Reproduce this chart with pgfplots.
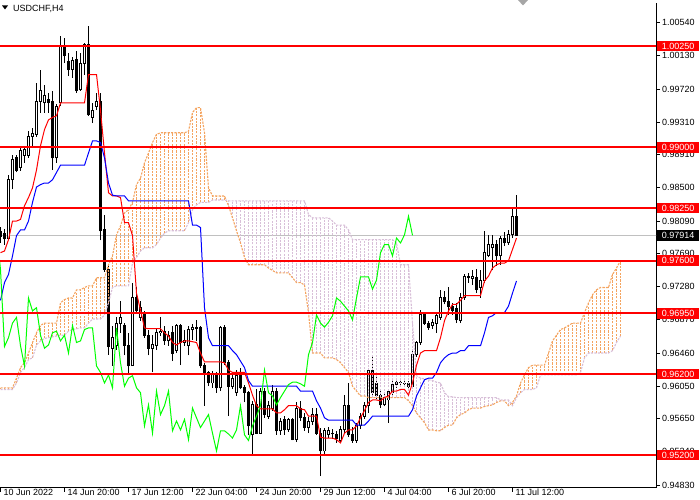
\documentclass[border=0pt]{standalone}
\usepackage{pgfplots}
\pgfplotsset{compat=1.18}
\usepackage{pgfplotstable}
\usepackage{fontspec}
\setmainfont{Liberation Sans}

\definecolor{sandy}{HTML}{F4A460}
\definecolor{thist}{HTML}{D8BFD8}
\definecolor{chik}{HTML}{00FF00}
\definecolor{bidgray}{HTML}{C0C0C0}
\newcommand\lbl{\fontsize{9bp}{10.5bp}\selectfont}

% H4 candles: bar index, open, high, low, close
\pgfplotstableread{
i o h l c
0 0.9796 0.9802 0.9782 0.9790
1 0.9794 0.9799 0.9780 0.9787
2 0.9788 0.9866 0.9785 0.9860
3 0.9860 0.9890 0.9848 0.9885
4 0.9887 0.9891 0.9869 0.9872
5 0.9875 0.9902 0.9871 0.9896
6 0.9890 0.9902 0.9881 0.9897
7 0.9890 0.9920 0.9887 0.9914
8 0.9914 0.9924 0.9902 0.9917
9 0.9916 0.9980 0.9913 0.9957
10 0.9957 0.9995 0.9943 0.9970
11 0.9955 0.9977 0.9943 0.9964
12 0.9959 0.9967 0.9943 0.9956
13 0.9957 0.9970 0.9872 0.9887
14 0.9887 0.9954 0.9881 0.9951
15 0.9955 1.0038 0.9951 1.0025
16 1.0025 1.0035 1.0004 1.0013
17 1.0006 1.0017 0.9988 0.9996
18 0.9996 1.0011 0.9986 1.0007
19 1.0008 1.0019 0.9967 0.9970
20 0.9971 1.0017 0.9970 1.0004
21 1.0004 1.0029 0.9990 1.0027
22 1.0027 1.0050 0.9939 0.9940
23 0.9937 0.9955 0.9930 0.9946
24 0.9951 0.9967 0.9946 0.9957
25 0.9957 0.9967 0.9785 0.9797
26 0.9798 0.9817 0.9746 0.9749
27 0.9749 0.9755 0.9644 0.9654
28 0.9652 0.9680 0.9630 0.9665
29 0.9655 0.9690 0.9650 0.9683
30 0.9683 0.9710 0.9671 0.9690
31 0.9680 0.9683 0.9643 0.9655
32 0.9655 0.9671 0.9619 0.9630
33 0.9631 0.9733 0.9630 0.9714
34 0.9714 0.9727 0.9696 0.9698
35 0.9690 0.9710 0.9686 0.9702
36 0.9693 0.9698 0.9665 0.9668
37 0.9668 0.9675 0.9643 0.9652
38 0.9652 0.9668 0.9622 0.9656
39 0.9655 0.9676 0.9650 0.9671
40 0.9671 0.9690 0.9667 0.9673
41 0.9673 0.9680 0.9656 0.9661
42 0.9661 0.9673 0.9655 0.9668
43 0.9671 0.9680 0.9636 0.9646
44 0.9649 0.9682 0.9646 0.9680
45 0.9680 0.9682 0.9631 0.9659
46 0.9659 0.9675 0.9655 0.9661
47 0.9655 0.9680 0.9643 0.9675
48 0.9675 0.9682 0.9662 0.9677
49 0.9676 0.9687 0.9661 0.9677
50 0.9677 0.9680 0.9628 0.9630
51 0.9631 0.9634 0.9581 0.9622
52 0.9622 0.9624 0.9605 0.9609
53 0.9609 0.9624 0.9603 0.9619
54 0.9619 0.9622 0.9597 0.9603
55 0.9603 0.9680 0.9599 0.9677
56 0.9677 0.9681 0.9631 0.9634
57 0.9634 0.9638 0.9568 0.9605
58 0.9605 0.9622 0.9601 0.9615
59 0.9597 0.9625 0.9593 0.9618
60 0.9618 0.9628 0.9601 0.9603
61 0.9603 0.9607 0.9585 0.9597
62 0.9597 0.9599 0.9545 0.9556
63 0.9545 0.9587 0.9520 0.9582
64 0.9582 0.9601 0.9546 0.9547
65 0.9547 0.9603 0.9546 0.9599
66 0.9599 0.9603 0.9566 0.9570
67 0.9568 0.9587 0.9565 0.9581
68 0.9578 0.9607 0.9575 0.9599
69 0.9599 0.9603 0.9545 0.9550
70 0.9550 0.9566 0.9545 0.9562
71 0.9564 0.9568 0.9545 0.9551
72 0.9551 0.9566 0.9549 0.9564
73 0.9564 0.9566 0.9538 0.9539
74 0.9539 0.9585 0.9536 0.9578
75 0.9578 0.9587 0.9562 0.9566
76 0.9566 0.9572 0.9550 0.9554
77 0.9554 0.9567 0.9547 0.9562
78 0.9562 0.9578 0.9557 0.9570
79 0.9570 0.9578 0.9545 0.9547
80 0.9547 0.9554 0.9494 0.9525
81 0.9525 0.9554 0.9520 0.9550
82 0.9545 0.9555 0.9541 0.9550
83 0.9547 0.9552 0.9540 0.9546
84 0.9545 0.9550 0.9535 0.9541
85 0.9538 0.9556 0.9535 0.9551
86 0.9551 0.9594 0.9547 0.9581
87 0.9581 0.9609 0.9542 0.9545
88 0.9545 0.9555 0.9535 0.9538
89 0.9538 0.9560 0.9535 0.9556
90 0.9556 0.9572 0.9552 0.9568
91 0.9568 0.9585 0.9565 0.9581
92 0.9581 0.9628 0.9572 0.9625
93 0.9625 0.9643 0.9593 0.9597
94 0.9609 0.9619 0.9589 0.9593
95 0.9594 0.9599 0.9578 0.9582
96 0.9582 0.9597 0.9580 0.9591
97 0.9588 0.9602 0.9560 0.9599
98 0.9597 0.9613 0.9593 0.9607
99 0.9607 0.9613 0.9603 0.9610
100 0.9609 0.9614 0.9605 0.9610
101 0.9609 0.9613 0.9604 0.9608
102 0.9608 0.9612 0.9602 0.9605
103 0.9605 0.9649 0.9603 0.9644
104 0.9644 0.9661 0.9641 0.9659
105 0.9659 0.9699 0.9656 0.9693
106 0.9693 0.9697 0.9681 0.9683
107 0.9683 0.9686 0.9675 0.9678
108 0.9680 0.9688 0.9676 0.9684
109 0.9683 0.9696 0.9671 0.9692
110 0.9690 0.9724 0.9687 0.9714
111 0.9714 0.9723 0.9706 0.9710
112 0.9710 0.9727 0.9693 0.9704
113 0.9704 0.9708 0.9693 0.9698
114 0.9701 0.9708 0.9683 0.9687
115 0.9686 0.9720 0.9683 0.9714
116 0.9714 0.9743 0.9712 0.9740
117 0.9739 0.9745 0.9733 0.9740
118 0.9738 0.9748 0.9730 0.9740
119 0.9739 0.9750 0.9720 0.9725
120 0.9727 0.9748 0.9714 0.9736
121 0.9736 0.9797 0.9733 0.9770
122 0.9767 0.9792 0.9764 0.9780
123 0.9776 0.9792 0.9748 0.9780
124 0.9780 0.9785 0.9754 0.9766
125 0.9766 0.9791 0.9755 0.9788
126 0.9788 0.9795 0.9778 0.9782
127 0.9782 0.9798 0.9780 0.9792
128 0.9792 0.9825 0.9788 0.9815
129 0.9815 0.9841 0.9791 0.97914
}\candles

% Tenkan-sen (t) and Kijun-sen (k)
\pgfplotstableread{
i t k
0 0.9770 0.9711
1 0.9772 0.9733
2 0.9786 0.9743
3 0.9809 0.9766
4 0.9809 0.9791
5 0.9811 0.9798
6 0.9828 0.9798
7 0.9838 0.9809
8 0.9850 0.9832
9 0.9872 0.9851
10 0.9902 0.9854
11 0.9922 0.9856
12 0.9934 0.9856
13 0.9937 0.9860
14 0.9939 0.9869
15 0.9955 0.9878
16 0.9955 0.9878
17 0.9955 0.9878
18 0.9955 0.9878
19 0.9955 0.9878
20 0.9955 0.9878
21 0.9955 0.9878
22 0.9990 0.9893
23 0.9990 0.9908
24 0.9990 0.9908
25 0.9946 0.9906
26 0.9893 0.9887
27 0.9844 0.9856
28 0.9840 0.9841
29 0.9840 0.9840
30 0.9838 0.9840
31 0.9807 0.9840
32 0.9807 0.9834
33 0.9791 0.9834
34 0.9720 0.9834
35 0.9699 0.9834
36 0.9677 0.9834
37 0.9676 0.9834
38 0.9676 0.9834
39 0.9676 0.9834
40 0.9676 0.9834
41 0.9671 0.9834
42 0.9667 0.9834
43 0.9659 0.9834
44 0.9656 0.9834
45 0.9659 0.9834
46 0.9661 0.9834
47 0.9661 0.9834
48 0.9660 0.9804
49 0.9659 0.9804
50 0.9646 0.9801
51 0.9635 0.9702
52 0.9635 0.9665
53 0.9635 0.9655
54 0.9635 0.9655
55 0.9635 0.9655
56 0.9634 0.9655
57 0.9625 0.9655
58 0.9622 0.9649
59 0.9622 0.9644
60 0.9622 0.9636
61 0.9622 0.9628
62 0.9609 0.9612
63 0.9594 0.9605
64 0.9581 0.9605
65 0.9577 0.9605
66 0.9577 0.9605
67 0.9577 0.9605
68 0.9577 0.9605
69 0.9572 0.9605
70 0.9572 0.9605
71 0.9576 0.9605
72 0.9581 0.9605
73 0.9581 0.9605
74 0.9581 0.9605
75 0.9577 0.9599
76 0.9576 0.9599
77 0.9568 0.9599
78 0.9568 0.9599
79 0.9568 0.9587
80 0.9542 0.9578
81 0.9541 0.9566
82 0.9541 0.9563
83 0.9541 0.9563
84 0.9539 0.9563
85 0.9535 0.9563
86 0.9547 0.9563
87 0.9551 0.9563
88 0.9551 0.9563
89 0.9556 0.9557
90 0.9566 0.9557
91 0.9575 0.9557
92 0.9585 0.9562
93 0.9588 0.9568
94 0.9588 0.9568
95 0.9587 0.9568
96 0.9591 0.9568
97 0.9593 0.9568
98 0.9599 0.9568
99 0.9599 0.9568
100 0.9601 0.9568
101 0.9601 0.9568
102 0.9594 0.9568
103 0.9609 0.9576
104 0.9631 0.9593
105 0.9646 0.9603
106 0.9649 0.9613
107 0.9649 0.9615
108 0.9649 0.9615
109 0.9649 0.9622
110 0.9665 0.9634
111 0.9686 0.9640
112 0.9698 0.9644
113 0.9706 0.9646
114 0.9706 0.9646
115 0.9711 0.9649
116 0.9717 0.9649
117 0.9717 0.9655
118 0.9717 0.9655
119 0.9717 0.9655
120 0.9717 0.9655
121 0.9735 0.9671
122 0.9741 0.9690
123 0.9751 0.9692
124 0.9755 0.9696
125 0.9757 0.9696
126 0.9757 0.9696
127 0.9760 0.9704
128 0.9774 0.9720
129 0.9788 0.9735
}\lines

% Senkou span A (a) and B (b), already shifted 26 bars ahead
\pgfplotstableread{
i a b
0 0.9603 0.9601
1 0.9603 0.9601
2 0.9603 0.9601
3 0.9603 0.9601
4 0.9615 0.9609
5 0.9628 0.9622
6 0.9634 0.9628
7 0.9646 0.9638
8 0.9659 0.9640
9 0.9671 0.9656
10 0.9680 0.9661
11 0.9683 0.9664
12 0.9683 0.9665
13 0.9683 0.9666
14 0.9683 0.9667
15 0.9708 0.9668
16 0.9712 0.9668
17 0.9714 0.9673
18 0.9714 0.9675
19 0.9724 0.9676
20 0.9724 0.9677
21 0.9727 0.9677
22 0.9729 0.9683
23 0.9729 0.9688
24 0.9739 0.9688
25 0.9739 0.9688
26 0.9739 0.9693
27 0.9755 0.9708
28 0.9766 0.9727
29 0.9792 0.9729
30 0.9803 0.9729
31 0.9819 0.9729
32 0.9823 0.9729
33 0.9832 0.9757
34 0.9854 0.9764
35 0.9862 0.9772
36 0.9881 0.9776
37 0.9893 0.9776
38 0.9906 0.9776
39 0.9916 0.9780
40 0.9918 0.9788
41 0.9918 0.9794
42 0.9918 0.9797
43 0.9918 0.9797
44 0.9918 0.9797
45 0.9918 0.9797
46 0.9918 0.9797
47 0.9920 0.9807
48 0.9943 0.9823
49 0.9949 0.9829
50 0.9949 0.9832
51 0.9918 0.9832
52 0.9850 0.9832
53 0.9840 0.9835
54 0.9840 0.9835
55 0.9840 0.9835
56 0.9840 0.9835
57 0.9828 0.9834
58 0.9813 0.9834
59 0.9797 0.9834
60 0.9782 0.9834
61 0.9764 0.9834
62 0.9755 0.9834
63 0.9755 0.9834
64 0.9755 0.9834
65 0.9755 0.9834
66 0.9755 0.9834
67 0.9751 0.9834
68 0.9748 0.9834
69 0.9745 0.9834
70 0.9745 0.9834
71 0.9745 0.9834
72 0.9745 0.9834
73 0.9739 0.9834
74 0.9733 0.9834
75 0.9733 0.9834
76 0.9730 0.9834
77 0.9696 0.9817
78 0.9646 0.9813
79 0.9646 0.9813
80 0.9646 0.9813
81 0.9640 0.9813
82 0.9640 0.9813
83 0.9640 0.9809
84 0.9638 0.9804
85 0.9634 0.9804
86 0.9628 0.9804
87 0.9622 0.9798
88 0.9605 0.9786
89 0.9599 0.9786
90 0.9593 0.9786
91 0.9593 0.9786
92 0.9591 0.9786
93 0.9591 0.9786
94 0.9591 0.9786
95 0.9591 0.9786
96 0.9591 0.9786
97 0.9591 0.9786
98 0.9591 0.9786
99 0.9591 0.9782
100 0.9591 0.9755
101 0.9591 0.9755
102 0.9587 0.9755
103 0.9581 0.9683
104 0.9572 0.9618
105 0.9566 0.9615
106 0.9560 0.9614
107 0.9551 0.9613
108 0.9551 0.9612
109 0.9550 0.9610
110 0.9550 0.9609
111 0.9554 0.9597
112 0.9557 0.9592
113 0.9557 0.9592
114 0.9566 0.9591
115 0.9570 0.9591
116 0.9572 0.9591
117 0.9576 0.9591
118 0.9578 0.9591
119 0.9578 0.9591
120 0.9578 0.9591
121 0.9580 0.9591
122 0.9581 0.9591
123 0.9582 0.9591
124 0.9585 0.9591
125 0.9587 0.9588
126 0.9587 0.9588
127 0.9581 0.9588
128 0.9585 0.9581
129 0.9593 0.9591
130 0.9609 0.9597
131 0.9619 0.9601
132 0.9628 0.9601
133 0.9631 0.9601
134 0.9631 0.9603
135 0.9631 0.9619
136 0.9631 0.9619
137 0.9646 0.9619
138 0.9661 0.9619
139 0.9668 0.9619
140 0.9675 0.9619
141 0.9677 0.9619
142 0.9680 0.9619
143 0.9683 0.9619
144 0.9683 0.9619
145 0.9683 0.9622
146 0.9696 0.9640
147 0.9708 0.9646
148 0.9718 0.9646
149 0.9724 0.9646
150 0.9727 0.9646
151 0.9727 0.9646
152 0.9727 0.9646
153 0.9743 0.9649
154 0.9751 0.9659
155 0.9760 0.9667
}\cloud

\begin{document}
\begin{tikzpicture}[x=1bp,y=1bp]
\path[use as bounding box] (0,0) rectangle (700,500);
\begin{axis}[
  at={(0,15)}, anchor=south west,
  scale only axis, width=656bp, height=485bp,
  xmin=-0.125, xmax=163.875,
  ymin=0.94795, ymax=1.00785,
  axis x line*=bottom, axis y line*=right,
  axis line style={black, line width=1bp},
  tick align=outside, major tick length=4bp,
  tick style={black, line width=0.8bp},
  xtick={0,16,...,128},
  xticklabels={10 Jun 2022,14 Jun 20:00,17 Jun 12:00,22 Jun 04:00,24 Jun 20:00,29 Jun 12:00,4 Jul 04:00,6 Jul 20:00,11 Jul 12:00},
  ytick={0.9483,0.9524,0.9565,0.9605,0.9646,0.9687,0.9728,0.9769,0.9809,0.9850,0.9891,0.9931,0.9972,1.0013,1.0054},
  yticklabels={0.94830,0.95240,0.95650,0.96050,0.96460,0.96870,0.97280,0.97690,0.98090,0.98500,0.98910,0.99310,0.99720,1.00130,1.00540},
  ticklabel style={font=\lbl, text=black},
  xticklabel style={anchor=north west, inner sep=0pt, xshift=3bp, yshift=3bp},
  yticklabel style={anchor=west, inner sep=0pt, xshift=2bp},
  clip mode=individual,
  candle/.style={draw=none, mark=none, forget plot,
    error bars/y dir=plus, error bars/y explicit, error bars/error mark=none},
  hatch/.style={line width=1.1bp, dash pattern=on 2.2bp off 1.2bp},
]
% bid line
\addplot[bidgray, line width=1bp, forget plot] coordinates {(-1,0.97914) (170,0.97914)};

% wicks
\addplot[candle, error bars/error bar style={draw=black, line width=1bp}]
  table[x=i, y=l, y error plus expr=\thisrow{h}-\thisrow{l}] {\candles};
% bodies (black outline / black fill)
\addplot[candle, error bars/error bar style={draw=black, line width=3bp}]
  table[x=i, y expr={min(\thisrow{o},\thisrow{c})-0.00006},
        y error plus expr={abs(\thisrow{c}-\thisrow{o})+0.00012}] {\candles};
% white inside of bullish bodies
\addplot[candle, restrict expr to domain={\thisrow{c}-\thisrow{o}}{0.00013:1},
  error bars/error bar style={draw=white, line width=1bp}]
  table[x=i, y expr={\thisrow{o}+0.00006},
        y error plus expr={\thisrow{c}-\thisrow{o}-0.00012}] {\candles};

% cloud hatching
\addplot[candle, restrict expr to domain={\thisrow{a}-\thisrow{b}}{0:1},
  error bars/error bar style={draw=sandy, hatch}]
  table[x=i, y=b, y error plus expr=\thisrow{a}-\thisrow{b}] {\cloud};
\addplot[candle, restrict expr to domain={\thisrow{b}-\thisrow{a}}{0:1},
  error bars/error bar style={draw=thist, hatch}]
  table[x=i, y=a, y error plus expr=\thisrow{b}-\thisrow{a}] {\cloud};
\addplot[sandy, hatch, forget plot] table[x=i, y=a] {\cloud};
\addplot[thist, hatch, forget plot] table[x=i, y=b] {\cloud};

% tenkan, kijun, chikou
\addplot[red, line width=1bp, forget plot] table[x=i, y=t] {\lines};
\addplot[blue, line width=1bp, forget plot] table[x=i, y=k] {\lines};
\addplot[chik, line width=1bp, forget plot] table[x expr=\thisrow{i}-26, y=c] {\candles};

% levels
\pgfplotsinvokeforeach{1.0025,0.99,0.9825,0.976,0.9695,0.962,0.952}{
  \addplot[red, line width=2bp, forget plot] coordinates {(-1,#1) (170,#1)};
}

\coordinate (b1) at (axis cs:163.875,1.0025);
\coordinate (b2) at (axis cs:163.875,0.99);
\coordinate (b3) at (axis cs:163.875,0.9825);
\coordinate (b4) at (axis cs:163.875,0.976);
\coordinate (b5) at (axis cs:163.875,0.9695);
\coordinate (b6) at (axis cs:163.875,0.962);
\coordinate (b7) at (axis cs:163.875,0.952);
\coordinate (bb) at (axis cs:163.875,0.97914);
\end{axis}

\tikzset{lvl/.style={fill=red, text=white, font=\lbl, inner sep=0pt,
  minimum width=42bp, minimum height=10.5bp, anchor=west, xshift=1bp}}
\node[lvl] at (b1) {1.00250};
\node[lvl] at (b2) {0.99000};
\node[lvl] at (b3) {0.98250};
\node[lvl] at (b4) {0.97600};
\node[lvl] at (b5) {0.96950};
\node[lvl] at (b6) {0.96200};
\node[lvl] at (b7) {0.95200};
\node[lvl, fill=black] at (bb) {0.97914};

% chart caption
\fill (2,494.5) -- (8,494.5) -- (5,490.5) -- cycle;
\node[anchor=west, font=\lbl, inner sep=0pt] at (13,491.5) {USDCHF,H4};
\fill[black!35] (518,500) -- (528,500) -- (523,494.5) -- cycle;
\end{tikzpicture}
\end{document}
